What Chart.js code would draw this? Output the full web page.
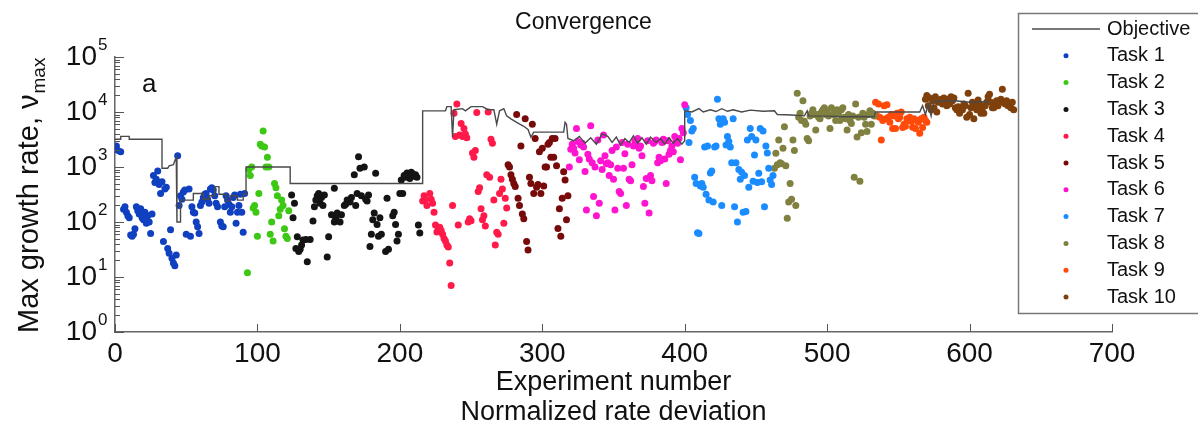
<!DOCTYPE html>
<html>
<head>
<meta charset="utf-8">
<script src="https://cdn.jsdelivr.net/npm/chart.js@4/dist/chart.umd.min.js"></script>
<style>
  html, body { margin: 0; padding: 0; background: #fff; }
  #wrap { width: 1198px; height: 431px; }
</style>
</head>
<body>
<div id="wrap"><canvas id="chart" width="1198" height="431"></canvas></div>
<script>
// Convergence — max growth rate per experiment, tasks 1..10

const taskLabels = ['Task 1', 'Task 2', 'Task 3', 'Task 4', 'Task 5', 'Task 6', 'Task 7', 'Task 8', 'Task 9', 'Task 10'];
const taskColors = ['#1040c0', '#3cc814', '#141414', '#ff1a4a', '#780a0a', '#ff14d0', '#1a8cff', '#808040', '#ff4a0a', '#7f400c'];
const xTicks = [0, 100, 200, 300, 400, 500, 600, 700];
const yDecades = [0, 1, 2, 3, 4, 5];

const objective = [[0,3200],[4,3200],[4,3600],[10,3600],[10,3200],[33,3200],[33,950],[37,950],[38,1050],[41,1100],[42,1300],[43,1500],[43.5,100],[46,100],[46,250],[55,250],[55,330],[62,330],[62,260],[66,260],[66,300],[70,300],[70,440],[73,440],[73,320],[78,320],[78,240],[81,240],[81,300],[86,300],[86,250],[90,250],[90,320],[92,320],[92,1000],[123,1000],[123,500],[216,500],[216,10500],[232,10500],[233,12500],[236,12500],[237,3500],[238,11000],[244,11500],[246,10500],[250,12500],[258,12500],[262,11000],[266,11000],[268,6000],[270,10500],[273,11500],[275,8500],[278,7500],[282,6500],[287,5500],[290,4800],[292,3500],[294,4300],[315,4300],[316,6500],[317,6000],[318,3300],[322,3000],[326,3600],[330,2700],[334,3400],[338,2600],[342,4000],[346,3600],[349,2800],[352,3500],[355,2500],[358,3300],[361,2800],[364,3700],[367,2700],[370,3400],[373,2600],[376,3500],[380,2800],[383,3300],[386,2600],[389,3400],[392,2700],[395,3300],[398,2600],[400,3000],[400,10500],[405,10000],[410,11500],[413,10000],[418,11000],[422,10200],[426,11500],[430,10300],[434,11000],[440,10000],[446,10800],[455,10300],[463,10500],[465,9000],[475,8800],[484,8500],[486,10500],[487,8500],[500,8400],[512,8200],[520,8300],[533,8200],[534,10000],[550,10000],[565,10000],[567,13000],[569,9000],[571,14000],[573,8500],[575,15500],[590,16000],[600,15000],[614,15500]];

const task1 = [[1,2400],[2,2000],[4,1900],[6,170],[7,190],[8,150],[9,130],[10,120],[11,58],[12,55],[13,60],[14,75],[15,190],[16,160],[17,140],[18,175],[19,120],[20,110],[21,150],[22,95],[23,130],[24,100],[25,62],[26,140],[27,700],[28,520],[29,600],[30,850],[31,480],[32,330],[33,540],[34,44],[35,400],[36,430],[37,33],[38,27],[39,72],[40,22],[41,18],[42,16],[43,25],[44,1600],[45,200],[46,300],[47,260],[48,350],[49,380],[50,60],[52,400],[53,55],[54,190],[55,150],[56,145],[57,100],[58,82],[59,62],[60,200],[61,230],[62,280],[63,320],[64,330],[65,260],[66,220],[67,400],[68,420],[69,380],[70,300],[71,220],[72,190],[74,100],[75,85],[76,82],[77,190],[78,300],[79,250],[80,210],[81,150],[82,190],[83,280],[84,310],[85,95],[86,150],[87,200],[88,320],[89,150],[90,65],[91,330]];
const task2 = [[93,12],[94,900],[95,700],[96,1000],[97,180],[98,200],[99,150],[100,55],[101,330],[102,2600],[103,2400],[104,4500],[105,2300],[106,1000],[107,1500],[108,1000],[109,60],[110,100],[111,45],[112,500],[113,420],[114,300],[115,130],[116,170],[117,250],[118,200],[119,75],[120,55],[121,50],[122,160]];
const task3 = [[124,310],[125,120],[126,220],[127,33],[128,54],[129,29],[130,32],[131,38],[132,47],[134,48],[135,19],[137,48],[139,104],[140,190],[141,250],[142,300],[143,330],[144,220],[145,280],[146,200],[147,310],[149,23],[150,54],[152,135],[154,100],[154,410],[155,117],[156,145],[158,100],[159,135],[161,200],[162,210],[163,250],[165,230],[166,280],[168,720],[169,200],[170,330],[171,1530],[172,950],[173,300],[175,1000],[176,260],[177,240],[178,310],[179,36],[180,60],[181,110],[182,145],[183,770],[184,90],[185,55],[186,120],[187,60],[190,29],[191,270],[192,32],[195,130],[196,150],[197,90],[198,45],[199,60],[200,330],[201,580],[202,330],[203,700],[204,650],[205,780],[206,700],[207,620],[208,800],[209,750],[210,680],[211,720],[212,650],[213,88],[214,63]];
const task4 = [[216,240],[217,300],[218,260],[219,200],[221,330],[222,260],[223,220],[224,150],[225,88],[226,66],[227,75],[228,80],[229,70],[230,60],[231,50],[232,45],[233,38],[234,35],[235,18],[236,7],[237,200],[238,9500],[239,3600],[240,14000],[241,88],[242,3800],[243,6200],[244,3600],[245,5000],[246,4000],[247,3400],[248,100],[249,115],[250,105],[251,1800],[252,1500],[253,2000],[254,9800],[255,360],[256,420],[257,175],[258,110],[259,130],[260,85],[261,720],[262,10000],[263,650],[264,3200],[265,2700],[266,250],[267,38],[268,65],[269,60],[270,330],[271,600],[272,400],[273,95],[274,270],[275,180]];
const task5 = [[276,1100],[277,1000],[278,720],[279,600],[280,500],[281,440],[282,9000],[283,270],[284,200],[285,2400],[286,140],[287,115],[288,7500],[289,44],[290,31],[291,650],[292,500],[293,6000],[294,330],[295,3300],[296,430],[297,480],[298,1900],[299,330],[300,2200],[301,450],[302,1000],[303,1000],[304,2600],[305,2800],[306,1500],[307,3300],[308,1500],[309,3300],[310,1050],[311,76],[312,175],[313,55],[314,270],[315,820],[316,580],[317,110],[318,300]];
const task6 = [[319,1000],[320,2100],[321,2600],[322,2200],[323,1800],[324,5000],[325,2900],[326,1350],[327,2500],[328,2700],[329,2300],[330,830],[331,165],[332,1700],[333,1400],[334,5600],[335,1200],[336,290],[337,1000],[338,130],[339,3100],[340,220],[341,1300],[342,900],[343,3800],[344,1600],[345,1150],[346,1200],[347,700],[348,1100],[349,2000],[350,600],[351,165],[352,2300],[353,950],[354,360],[355,330],[356,2800],[357,950],[358,1750],[359,200],[360,2600],[361,600],[362,560],[363,1100],[364,2400],[365,3000],[366,2500],[367,3300],[368,2200],[369,2400],[370,1600],[371,440],[372,220],[373,620],[374,3000],[375,145],[376,700],[377,560],[378,2700],[379,2900],[380,3100],[381,1200],[382,1500],[383,1300],[384,2800],[385,3200],[386,1400],[387,500],[388,3000],[389,1700],[390,2000],[391,2400],[392,1900],[393,3600],[394,3000],[395,2700],[396,3300],[397,1360],[398,5000],[399,4200],[400,13500]];
const task7 = [[401,12000],[402,9000],[403,2800],[404,7000],[405,4500],[406,5000],[407,650],[408,500],[409,64],[410,62],[411,450],[412,500],[413,430],[414,2300],[415,320],[416,2400],[417,250],[418,780],[419,850],[420,230],[421,2300],[422,2400],[423,17000],[424,7500],[425,6000],[426,200],[427,7500],[428,6500],[429,2500],[430,3600],[431,2900],[432,2300],[433,1200],[434,7500],[435,190],[436,1200],[437,100],[438,900],[439,600],[440,800],[441,150],[442,700],[443,155],[444,3100],[445,430],[446,5000],[447,3600],[448,550],[449,1650],[450,3100],[451,520],[452,770],[453,5000],[454,540],[455,4500],[456,190],[457,2400],[458,1800],[459,950],[460,580],[461,480],[462,700]];
const task8 = [[463,950],[464,1780],[465,1100],[466,3100],[467,1200],[468,1150],[469,2200],[470,5400],[471,1050],[472,117],[473,230],[474,500],[475,260],[476,3100],[477,2000],[478,200],[479,22000],[480,8000],[481,9500],[482,7000],[483,16000],[484,6800],[485,6000],[486,3300],[487,3000],[488,8500],[489,9500],[490,11000],[491,9000],[492,4700],[493,9000],[494,8000],[495,7500],[496,10000],[497,11000],[498,12000],[499,9000],[500,10500],[501,8500],[502,5000],[503,12000],[504,9000],[505,10000],[506,7000],[507,11000],[508,9500],[509,7000],[510,11000],[511,12000],[512,8000],[513,7500],[514,4700],[515,9000],[516,7000],[517,6200],[518,8500],[519,650],[520,14000],[521,3500],[522,8000],[523,550],[524,4200],[525,9500],[526,8000],[527,6000],[528,4400],[529,9000],[530,10500],[531,6000],[532,9500],[533,8500]];
const task9 = [[534,15000],[535,8500],[536,14000],[537,8000],[538,3100],[539,7000],[540,13000],[541,7500],[542,13500],[543,8000],[544,6500],[545,9000],[546,5000],[547,8500],[548,5000],[549,9500],[550,7500],[551,8000],[552,10000],[553,5200],[554,6000],[555,5500],[556,7500],[557,7000],[558,8000],[559,6800],[560,5300],[561,7500],[562,5000],[563,7000],[564,6500],[565,4100],[566,7500],[567,5200],[568,8000],[569,7000],[570,6500]];
const task10 = [[569,17000],[570,20000],[571,13000],[572,18000],[573,11000],[574,16000],[575,12000],[576,19000],[577,10000],[578,15000],[579,16000],[580,17000],[581,14000],[582,18000],[583,15000],[584,13000],[585,17000],[586,14000],[587,19000],[588,16000],[589,18000],[590,12000],[591,11000],[592,12500],[593,9500],[594,12000],[595,11000],[596,14000],[597,13000],[598,8000],[599,22000],[600,9000],[601,12000],[602,15000],[603,7500],[604,13000],[605,11000],[606,16500],[607,14000],[608,9500],[609,12000],[610,9500],[611,13000],[612,15000],[613,19000],[614,21000],[615,15000],[616,12000],[617,12000],[618,14000],[619,16000],[620,13000],[621,15000],[622,17000],[623,26000],[624,15000],[625,14000],[626,16000],[627,13000],[628,14000],[629,12000],[630,15000],[631,11000]];

const taskData = [task1, task2, task3, task4, task5, task6, task7, task8, task9, task10];

const FONT = "'Liberation Sans', Arial, sans-serif";
const toXY = arr => arr.map(p => ({ x: p[0], y: p[1] }));

// axis ticks (inward), power-of-ten labels, y title, panel letter and legend
const decor = {
  id: 'decor',
  afterDraw(chart) {
    const { ctx, scales: { x, y }, chartArea: a } = chart;
    ctx.save();
    ctx.strokeStyle = '#555';
    ctx.lineWidth = 1;
    y.ticks.forEach(t => {
      const py = Math.round(y.getPixelForValue(t.value)) + 0.5;
      const len = t.major ? 9 : 5;
      ctx.beginPath(); ctx.moveTo(a.left, py); ctx.lineTo(a.left + len, py); ctx.stroke();
    });
    xTicks.forEach(v => {
      const px = Math.round(x.getPixelForValue(v)) + 0.5;
      ctx.beginPath(); ctx.moveTo(px, a.bottom); ctx.lineTo(px, a.bottom - 8); ctx.stroke();
    });

    // 10^n labels
    ctx.fillStyle = '#111';
    yDecades.forEach(n => {
      const py = y.getPixelForValue(Math.pow(10, n));
      ctx.font = '28px ' + FONT;
      ctx.textAlign = 'right'; ctx.textBaseline = 'middle';
      ctx.fillText('10', 97, py);
      ctx.font = '17px ' + FONT;
      ctx.textAlign = 'left';
      ctx.fillText(String(n), 98, py - 12);
    });

    // y axis title with subscript
    ctx.save();
    ctx.translate(38, 333);
    ctx.rotate(-Math.PI / 2);
    ctx.textAlign = 'left'; ctx.textBaseline = 'alphabetic';
    ctx.font = '29px ' + FONT;
    const main = 'Max growth rate, \u03bd';
    ctx.fillText(main, 0, 0);
    const w = ctx.measureText(main).width;
    ctx.font = '19px ' + FONT;
    ctx.fillText('max', w + 1, 7);
    ctx.restore();

    // panel letter
    ctx.font = '26px ' + FONT;
    ctx.textAlign = 'left'; ctx.textBaseline = 'alphabetic';
    ctx.fillText('a', 142, 92);

    // legend box
    const lx = 1018.5, ly = 13.5;
    ctx.fillStyle = '#fff';
    ctx.fillRect(lx, ly, 200, 300);
    ctx.strokeStyle = '#777';
    ctx.lineWidth = 1.5;
    ctx.strokeRect(lx, ly, 200, 300);
    ctx.font = '20px ' + FONT;
    ctx.textBaseline = 'middle';
    ctx.fillStyle = '#111';
    chart.data.datasets.forEach((ds, i) => {
      const ry = 29 + i * 26.8;
      if (i === 0) {
        ctx.strokeStyle = ds.borderColor; ctx.lineWidth = 1.5;
        ctx.beginPath(); ctx.moveTo(1032, ry); ctx.lineTo(1100, ry); ctx.stroke();
      } else {
        ctx.fillStyle = ds.backgroundColor;
        ctx.beginPath(); ctx.arc(1066, ry, 2.5, 0, Math.PI * 2); ctx.fill();
      }
      ctx.fillStyle = '#111';
      ctx.fillText(ds.label, 1107, ry);
    });
    ctx.restore();
  }
};

const datasets = [{
  type: 'line',
  label: 'Objective',
  data: toXY(objective),
  borderColor: '#4a4a4a',
  borderWidth: 1.4,
  pointRadius: 0,
  fill: false,
  tension: 0
}].concat(taskData.map((d, i) => ({
  label: taskLabels[i],
  data: toXY(d),
  backgroundColor: taskColors[i],
  borderWidth: 0,
  pointRadius: 3.5
})));

new Chart(document.getElementById('chart'), {
  type: 'scatter',
  data: { datasets },
  options: {
    responsive: false,
    animation: false,
    events: [],
    layout: { padding: { left: 55, right: 86, top: 0, bottom: 0 } },
    plugins: {
      legend: { display: false },
      tooltip: { enabled: false },
      title: {
        display: true,
        text: 'Convergence',
        color: '#111',
        font: { family: FONT, size: 23, weight: 'normal', lineHeight: 1.2 },
        padding: { top: 9, bottom: 20.4 }
      }
    },
    scales: {
      x: {
        type: 'linear',
        min: 0, max: 700,
        afterFit: s => { s.height = 99; },
        grid: { display: false, drawTicks: false },
        border: { display: true, color: '#666', width: 1.5 },
        ticks: { stepSize: 100, padding: 5, color: '#111', font: { family: FONT, size: 28 } },
        title: {
          display: true,
          text: ['Experiment number', 'Normalized rate deviation'],
          color: '#111',
          font: { family: FONT, size: 27, lineHeight: 1.1 },
          padding: { top: 0, bottom: 4 }
        }
      },
      y: {
        type: 'logarithmic',
        min: 1, max: 100000,
        afterFit: s => { s.width = 60; },
        afterBuildTicks: s => {
          const ticks = [];
          for (let n = 0; n < 5; n++) {
            for (let k = 1; k < 10; k++) ticks.push({ value: k * Math.pow(10, n), major: k === 1 });
          }
          ticks.push({ value: 100000, major: true });
          s.ticks = ticks;
        },
        grid: { display: false },
        border: { display: true, color: '#666', width: 1.5 },
        ticks: { display: false }
      }
    }
  },
  plugins: [decor]
});
</script>
</body>
</html>
